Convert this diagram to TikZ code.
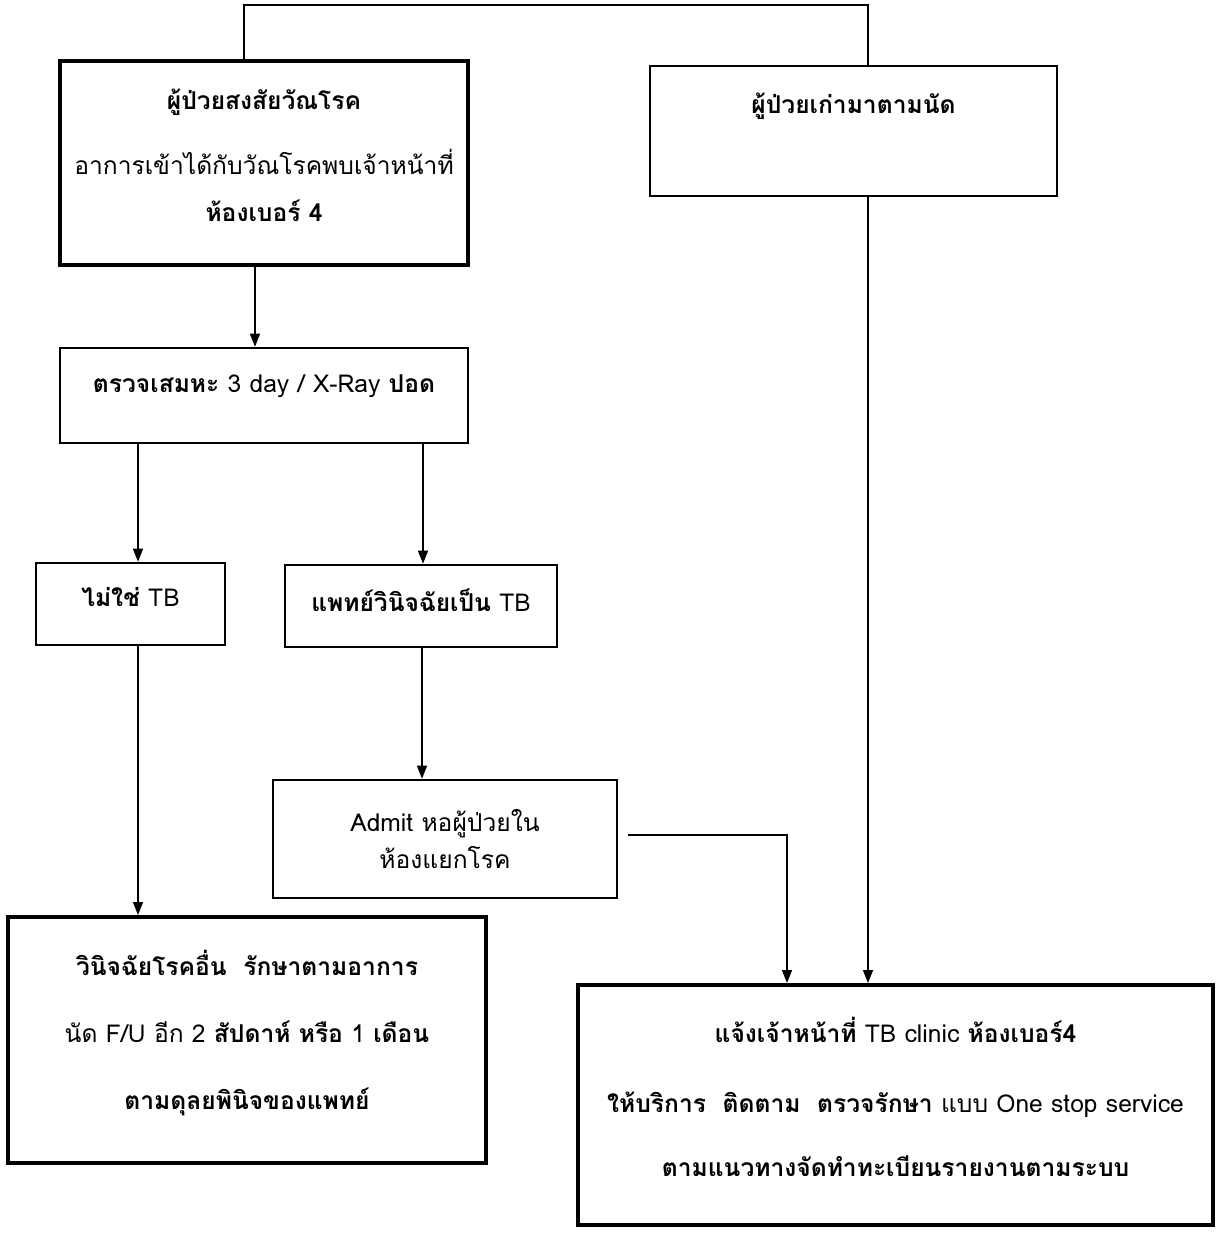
\documentclass[tikz,border=0pt]{standalone}
\usepackage{fontspec}
\setmainfont[Script=Thai]{Loma}
\usetikzlibrary{arrows.meta}
% invisible strut that lifts the text inside a box
\newcommand{\pushup}[1]{\rule[-#1]{0pt}{#1}}
\tikzset{
	box/.style={draw, line width=1.5pt, align=center, inner sep=0pt, font=\fontsize{14}{20}\selectfont},
	heavybox/.style={box, line width=2.3pt},
	link/.style={line width=0.8pt},
	arr/.style={link, -{Triangle[length=0.26cm,width=0.2cm]}}
}
\begin{document}
\begin{tikzpicture}[x=0.02cm, y=-0.02cm]
	\useasboundingbox (0,0) rectangle (1219,1236);
	% top row
	\node[heavybox, minimum width=8.16cm, minimum height=4.08cm] (suspect) at (264,163) {\textbf{ผู้ป่วยสงสัยวัณโรค}\\[0.59cm] อาการเข้าได้กับวัณโรคพบเจ้าหน้าที่\\[0.24cm] \textbf{ห้องเบอร์ 4}\pushup{0.32cm}};
	\node[box, minimum width=8.14cm, minimum height=2.6cm] (followup) at (853.5,131) {\textbf{ผู้ป่วยเก่ามาตามนัด}\pushup{1.12cm}};
	% screening
	\node[box, minimum width=8.16cm, minimum height=1.9cm] (sputum) at (264,395.5) {\textbf{ตรวจเสมหะ} 3 day / X-Ray \textbf{ปอด}\pushup{0.48cm}};
	\node[box, minimum width=3.78cm, minimum height=1.64cm] (notb) at (130.5,604) {\textbf{ไม่ใช่} TB\pushup{0.28cm}};
	\node[box, minimum width=5.44cm, minimum height=1.64cm] (istb) at (421,606) {\textbf{แพทย์วินิจฉัยเป็น} TB\pushup{0.24cm}};
	\node[box, minimum width=6.88cm, minimum height=2.36cm] (admit) at (445,839) {Admit หอผู้ป่วยใน\\[0.04cm] ห้องแยกโรค};
	% results
	\node[heavybox, minimum width=9.56cm, minimum height=4.92cm] (other) at (247,1040) {\textbf{วินิจฉัยโรคอื่น\ \ รักษาตามอาการ}\\[0.64cm] นัด F/U อีก 2 \textbf{สัปดาห์ หรือ} 1 \textbf{เดือน}\\[0.64cm] \textbf{ตามดุลยพินิจของแพทย์}\pushup{0.4cm}};
	\node[heavybox, minimum width=12.7cm, minimum height=4.8cm] (clinic) at (895.5,1105) {\textbf{แจ้งเจ้าหน้าที่} TB clinic \textbf{ห้องเบอร์4}\\[0.69cm] \textbf{ให้บริการ\ \ ติดตาม\ \ ตรวจรักษา} แบบ One stop service\\[0.59cm] \textbf{ตามแนวทางจัดทำทะเบียนรายงานตามระบบ}\pushup{0.32cm}};
	% connectors
	\draw[link] (suspect.north -| 244,0) -- ++(0,-54) -| (followup.north -| 868,0);
	\draw[arr] (suspect.south -| 255,0) -- (sputum.north -| 255,0);
	\draw[arr] (sputum.south -| 138,0) -- (notb.north -| 138,0);
	\draw[arr] (sputum.south -| 423,0) -- (istb.north -| 423,0);
	\draw[arr] (notb.south -| 138,0) -- (other.north -| 138,0);
	\draw[arr] (istb.south -| 422,0) -- (admit.north -| 422,0);
	\draw[arr, shorten <=0.2cm] (admit.east |- 0,835) -| (clinic.north -| 787,0);
	\draw[arr] (followup.south -| 868,0) -- (clinic.north -| 868,0);
\end{tikzpicture}
\end{document}
